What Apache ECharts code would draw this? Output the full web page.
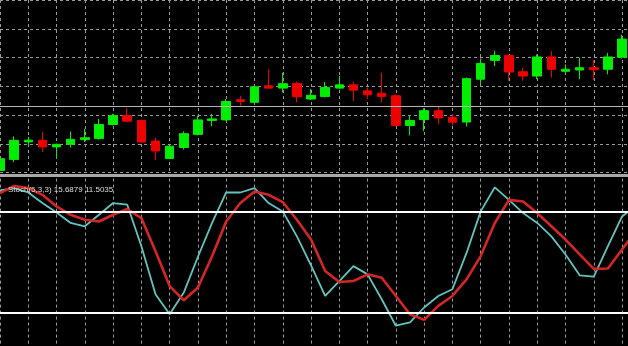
<!DOCTYPE html>
<html>
<head>
<meta charset="utf-8">
<script src="https://cdn.jsdelivr.net/npm/echarts@6/dist/echarts.min.js"></script>
<style>
html,body{margin:0;padding:0;background:#000;}
#chart{width:628px;height:346px;}
</style>
</head>
<body>
<div id="chart"></div>
<script>
// Candle values (price units), one entry per bar, oldest first
const opens  = [101.4,109.1,121.3,122.4,117.8,119.6,122.9,123.6,133.4,139.6,136.2,121.9,109.8,117.4,126.5,136.2,136.6,150.6,148.8,160.3,158.7,162.0,151.1,152.9,158.7,161.0,156.8,155.2,153.4,132.7,136.8,143.0,138.4,135.1,164.9,178.0,181.4,170.1,167.1,180.4,170.4,171.3,172.9,171.8,180.2];
const closes = [109.6,122.4,122.5,117.8,119.6,123.1,124.2,133.4,139.6,135.7,121.2,115.0,118.3,127.0,136.6,137.3,149.4,149.4,159.6,158.7,161.8,152.7,153.7,159.1,161.0,157.3,154.1,152.9,132.7,136.2,143.0,138.0,135.0,165.3,175.9,181.4,169.9,167.1,180.4,171.8,171.8,172.9,171.5,180.4,192.8];
const lows   = [100.3,107.4,118.3,114.3,109.6,117.4,121.2,122.9,132.7,135.0,120.5,108.6,109.3,116.0,125.8,132.2,136.2,146.5,148.8,158.0,155.6,148.8,150.4,152.2,158.0,149.9,151.1,148.8,132.2,125.8,128.8,133.9,132.7,132.0,161.4,174.0,163.7,163.7,164.9,166.0,168.3,164.9,164.2,168.3,179.3];
const highs  = [110.7,125.1,124.7,128.1,120.1,128.6,130.4,137.3,140.8,144.6,136.6,124.2,118.9,128.6,139.6,140.8,151.1,153.4,160.3,171.8,169.4,163.2,158.2,163.0,167.1,163.2,159.1,169.4,154.5,139.6,144.6,145.8,140.8,166.0,179.3,184.8,182.1,172.9,182.1,184.4,175.2,179.8,178.2,183.2,195.9];
// Stochastic(5,3,3): main (%K) and signal (%D)
const stochMain   = [93,94.3,91.7,85.4,79.8,73.5,71.5,78.4,85.4,84.4,59.6,30.9,19,31.9,53.3,73.5,91.7,91.7,94.3,85.4,80.4,65.5,48.2,29.9,38.8,47.7,42.8,27.9,12.1,14.1,23,29.9,33.9,55.6,80.4,94.8,87.3,79.4,73.5,65.5,54.7,42.2,41.4,59.6,77.4,84];
const stochSignal = [91.3,95.6,94.3,90.3,83.4,78.4,75.4,74.4,78.4,81.8,76.4,56.6,35.8,27.3,34.9,53.6,74.4,85.4,92.3,90.3,86,75.4,63.6,44.8,38.2,38.8,42.8,40.8,29.9,19,15.6,24,29.9,39.8,53.7,73.5,87.3,86.3,79.4,71.5,63.6,54.7,46.1,46.3,57.6,69];
const stochLevels = [80, 20];
const priceLine = 146.0;
const priceMin = 100, priceMax = 220, priceStep = 20;
const stochLabel = 'Stoch(5,3,3) 15.6879 11.5035';

const candleData = opens.map((o, i) => [i, o, closes[i], lows[i], highs[i]]);
const mainData = stochMain.map((v, i) => [i, v]);
const signalData = stochSignal.map((v, i) => [i, v]);

const gridDash = {show: true, lineStyle: {color: '#9a9a9a', width: 1, type: [3, 3]}};
const xMax = 44.42;

const chart = echarts.init(document.getElementById('chart'), null, {renderer: 'canvas'});
chart.setOption({
  backgroundColor: '#000',
  animation: false,
  title: {
    text: stochLabel, left: 3, top: 181,
    textStyle: {color: '#dcdcdc', fontSize: 8, fontWeight: 'normal', fontFamily: 'Liberation Sans'}
  },
  grid: [
    {left: -1.6, right: 0, top: -1.74, height: 174.24},
    {left: -1.6, right: 0, top: 178.6, height: 168.4}
  ],
  xAxis: [
    {type: 'value', gridIndex: 0, min: 0, max: xMax, interval: 2, position: 'bottom', offset: 3,
     axisLine: {show: true, onZero: false, lineStyle: {color: '#a8a8a8', width: 3}},
     axisTick: {show: false}, axisLabel: {show: false}, splitLine: gridDash},
    {type: 'value', gridIndex: 1, min: 0, max: xMax, interval: 2,
     axisLine: {show: false}, axisTick: {show: false}, axisLabel: {show: false}, splitLine: gridDash}
  ],
  yAxis: [
    {type: 'value', gridIndex: 0, min: priceMin, max: priceMax, interval: priceStep,
     axisLine: {show: false}, axisTick: {show: false}, axisLabel: {show: false}, splitLine: gridDash},
    {type: 'value', gridIndex: 1, min: 0, max: 100,
     axisLine: {show: false}, axisTick: {show: false}, axisLabel: {show: false}, splitLine: {show: false}}
  ],
  series: [
    {
      type: 'candlestick', xAxisIndex: 0, yAxisIndex: 0,
      data: candleData,
      encode: {x: 0, y: [1, 2, 3, 4]},
      barWidth: 9,
      itemStyle: {color: '#00ee00', color0: '#ee0000', borderColor: '#00ee00', borderColor0: '#ee0000', borderWidth: 1},
      markLine: {
        silent: true, symbol: 'none', label: {show: false},
        lineStyle: {color: '#b4b4b4', width: 1, type: 'solid'},
        data: [{yAxis: priceLine}]
      }
    },
    {
      type: 'line', xAxisIndex: 1, yAxisIndex: 1, data: mainData,
      showSymbol: false, symbol: 'none', smooth: false,
      lineStyle: {color: '#62c4be', width: 1.8},
      markLine: {
        silent: true, symbol: 'none', label: {show: false},
        lineStyle: {color: '#ffffff', width: 2, type: 'solid'},
        data: stochLevels.map(v => ({yAxis: v}))
      }
    },
    {
      type: 'line', xAxisIndex: 1, yAxisIndex: 1, data: signalData,
      showSymbol: false, symbol: 'none', smooth: false,
      lineStyle: {color: '#d42626', width: 2.6}
    }
  ]
});
</script>
</body>
</html>
